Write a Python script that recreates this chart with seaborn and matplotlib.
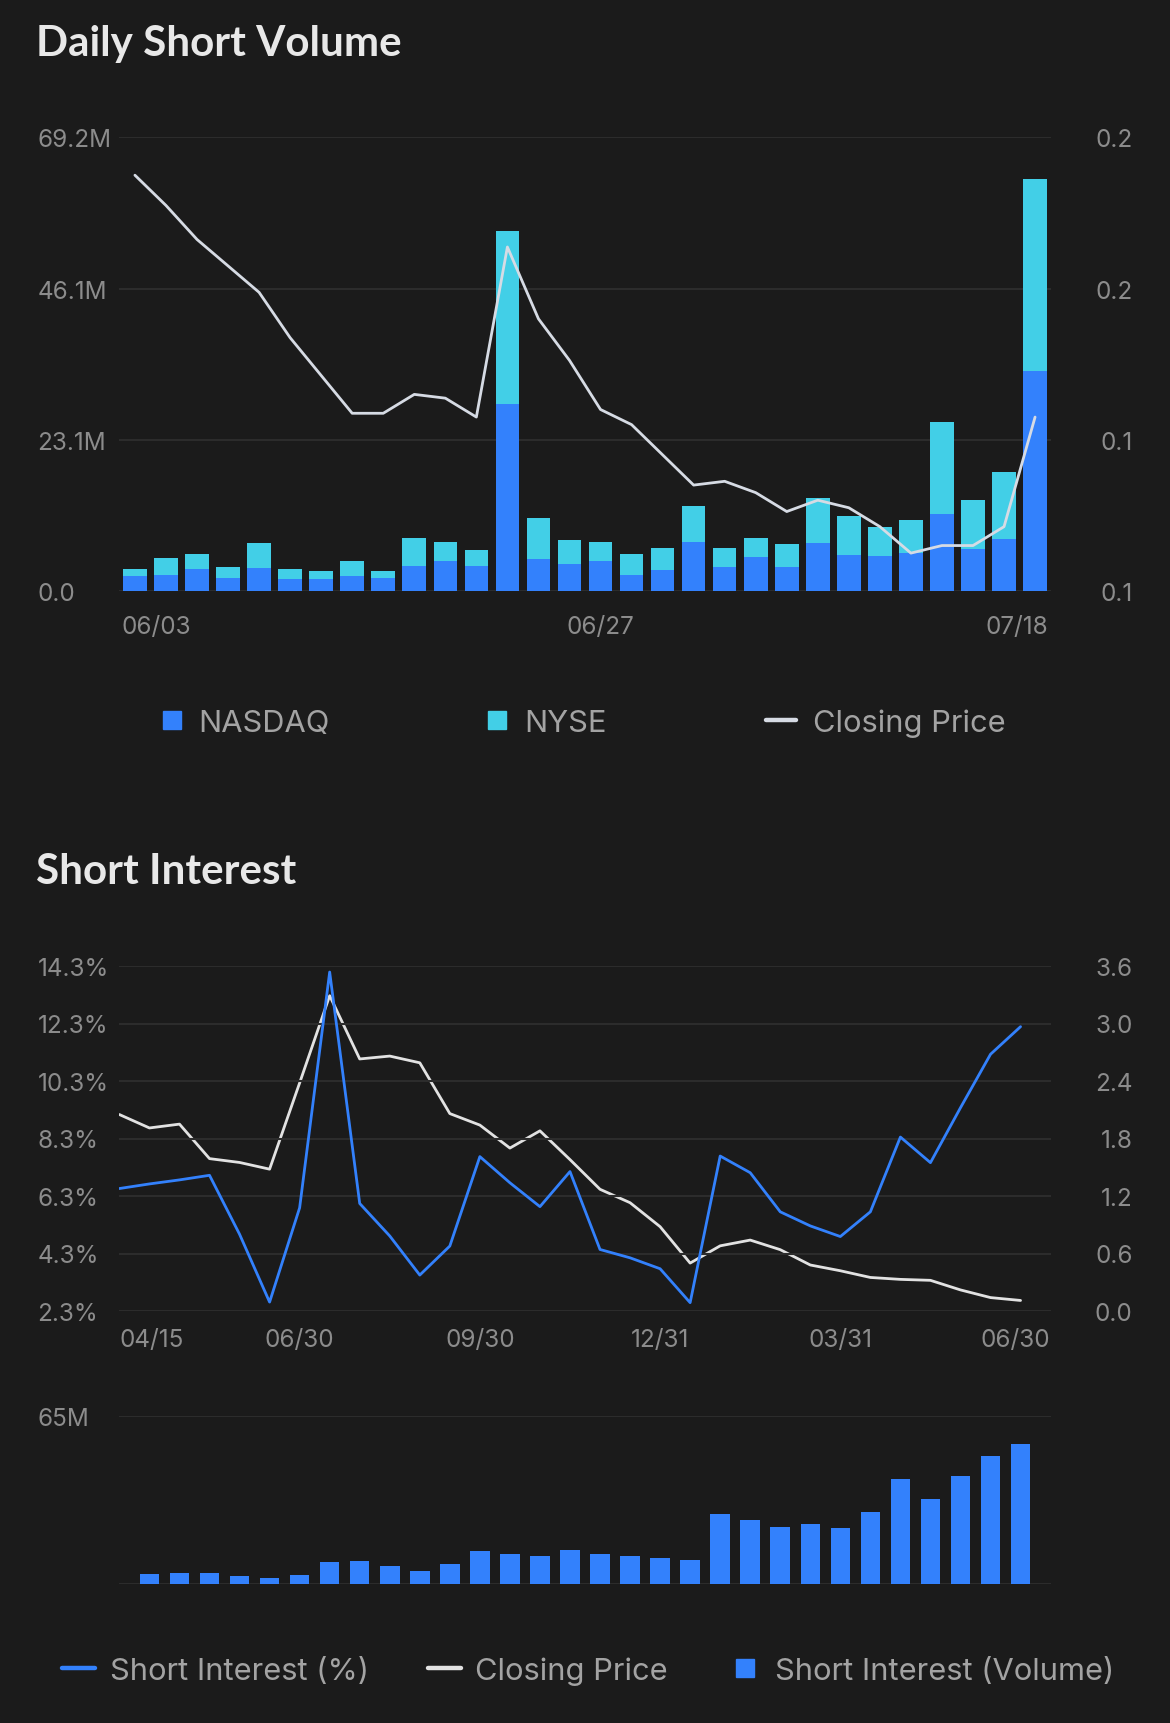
import numpy as np
import pandas as pd
import matplotlib
matplotlib.use('Agg')
import matplotlib.pyplot as plt
from matplotlib.lines import Line2D
import seaborn as sns

# Daily short volume, millions of shares (30 trading days)
nasdaq_vol = [2.2, 2.4, 3.3, 1.9, 3.5, 1.8, 1.75, 2.3, 1.9, 3.8, 4.5, 3.8, 28.5, 4.9, 4.1,
              4.5, 2.4, 3.2, 7.5, 3.7, 5.1, 3.6, 7.3, 5.5, 5.3, 5.8, 11.8, 6.4, 7.9, 33.5]
nyse_vol = [1.1, 2.6, 2.3, 1.8, 3.8, 1.5, 1.25, 2.3, 1.2, 4.3, 2.9, 2.5, 26.4, 6.3, 3.6,
            3.0, 3.2, 3.3, 5.5, 2.9, 3.0, 3.6, 6.8, 5.9, 4.5, 5.0, 13.9, 7.4, 10.3, 29.3]
daily_close = [0.190, 0.182, 0.173, 0.166, 0.159, 0.147, 0.137, 0.127, 0.127, 0.132,
               0.131, 0.126, 0.171, 0.152, 0.141, 0.128, 0.124, 0.116, 0.108, 0.109,
               0.106, 0.101, 0.104, 0.102, 0.097, 0.090, 0.092, 0.092, 0.097, 0.126]
daily_xlabels = ['06/03', '06/27', '07/18']
vol_ylabels = ['0.0', '23.1M', '46.1M', '69.2M']
daily_price_labels = ['0.1', '0.1', '0.2', '0.2']

# Short interest reports (31 dates)
si_pct = [6.56, 6.72, 6.86, 7.02, 4.97, 2.61, 5.89, 14.09, 6.04, 4.91, 3.55, 4.56, 7.67,
          6.76, 5.93, 7.15, 4.44, 4.15, 3.77, 2.59, 7.69, 7.11, 5.75, 5.26, 4.89, 5.75,
          8.35, 7.46, 9.37, 11.23, 12.19]
si_close = [2.05, 1.91, 1.95, 1.59, 1.55, 1.48, 2.38, 3.29, 2.63, 2.66, 2.59, 2.06, 1.94,
            1.70, 1.88, 1.58, 1.27, 1.13, 0.88, 0.50, 0.68, 0.74, 0.64, 0.48, 0.42, 0.35,
            0.33, 0.32, 0.22, 0.14, 0.11]
# short interest volume (millions), no bar for the first report
si_volume = [np.nan, 3.87, 4.0, 4.1, 2.8, 2.2, 3.35, 8.25, 8.6, 7.0, 5.0, 7.5, 12.6, 11.6,
             10.8, 13.2, 11.5, 10.6, 9.8, 9.0, 26.8, 24.6, 21.8, 23.1, 21.5, 27.9, 40.5,
             32.9, 41.7, 49.5, 53.9]
si_xlabels = ['04/15', '06/30', '09/30', '12/31', '03/31', '06/30']
pct_labels = ['2.3%', '4.3%', '6.3%', '8.3%', '10.3%', '12.3%', '14.3%']
si_price_labels = ['0.0', '0.6', '1.2', '1.8', '2.4', '3.0', '3.6']

BG = '#1b1b1b'
GRID = '#2c2c2c'
TICK = '#8c8c8c'
LEG = '#a3a3a3'
TITLE = '#e8e8e8'
BLUE = '#3381fc'
CYAN = '#42cfe7'
WHITE1 = '#d6dbe4'
WHITE2 = '#e2e2e2'

sns.set_style('dark', {'axes.facecolor': BG, 'figure.facecolor': BG})
plt.rcParams['font.family'] = ['Inter', 'DejaVu Sans']
TITLE_FONT = ['Lato', 'DejaVu Sans']

W, H = 1170, 1724
fig = plt.figure(figsize=(W / 100, H / 100), dpi=100)


def axes_at(left, top, right, bottom):
    return fig.add_axes([left / W, 1 - bottom / H, (right - left) / W, (bottom - top) / H])


def style_y(ax, ticks, labels, side, grid=False):
    ax.set_yticks(ticks)
    ax.set_yticklabels(labels)
    ax.tick_params(axis='y', length=0, pad=59, labelsize=17.5, labelcolor=TICK)
    plt.setp(ax.get_yticklabels(), ha='left' if side == 'left' else 'right')
    ax.set_ylabel('')
    ax.set_xlabel('')
    for s in ax.spines.values():
        s.set_visible(False)
    if grid:
        ax.yaxis.grid(True, color=GRID, lw=1.5)
        ax.set_axisbelow(True)
    ax.xaxis.grid(False)


# ---------------- Daily Short Volume ----------------
daily = pd.DataFrame({'day': range(len(nasdaq_vol)), 'nasdaq': nasdaq_vol,
                      'nyse': nyse_vol, 'close': daily_close})
daily['total'] = daily['nasdaq'] + daily['nyse']

ax1 = axes_at(119.4, 138.4, 1050.6, 591.9)
sns.barplot(data=daily, x='day', y='total', color=CYAN, saturation=1, width=0.76,
            errorbar=None, linewidth=0, edgecolor='none', ax=ax1)
sns.barplot(data=daily, x='day', y='nasdaq', color=BLUE, saturation=1, width=0.76,
            errorbar=None, linewidth=0, edgecolor='none', ax=ax1)
ax1.set_ylim(0, 69.2)
style_y(ax1, np.linspace(0, 69.2, 4), vol_ylabels, 'left', grid=True)

ax1b = ax1.twinx()
sns.lineplot(data=daily, x='day', y='close', color=WHITE1, lw=2, ax=ax1b)
ax1b.set_ylim(0.08, 0.20)
style_y(ax1b, [0.08, 0.12, 0.16, 0.20], daily_price_labels, 'right')

n = len(nasdaq_vol)
ax1.set_xlim(-0.5, n - 0.5)
ax1.set_xticks([-0.43, 15, n - 1 + 0.43])
ax1.set_xticklabels(daily_xlabels)
ax1.tick_params(axis='x', length=0, pad=17, labelsize=17.5, labelcolor=TICK)
labs = ax1.get_xticklabels()
labs[0].set_ha('left')
labs[-1].set_ha('right')

fig.text(36 / W, 1 - 56 / H, 'Daily Short Volume', ha='left', va='baseline',
         fontsize=30.3, fontweight='bold', color=TITLE, family=TITLE_FONT)

# ---------------- Short Interest ----------------
si = pd.DataFrame({'idx': range(len(si_pct)), 'pct': si_pct, 'close': si_close,
                   'volume': si_volume})
m = len(si_pct)

ax2 = axes_at(119.4, 967, 1050.6, 1312)
sns.lineplot(data=si, x='idx', y='pct', color=BLUE, lw=2, ax=ax2)
ax2.set_ylim(2.3, 14.3)
style_y(ax2, np.arange(2.3, 14.4, 2.0), pct_labels, 'left', grid=True)

ax2b = ax2.twinx()
sns.lineplot(data=si, x='idx', y='close', color=WHITE2, lw=2, ax=ax2b)
ax2b.set_ylim(0, 3.6)
style_y(ax2b, np.arange(0, 3.61, 0.6), si_price_labels, 'right')
ax2b.set_zorder(ax2.get_zorder() - 1)
ax2.patch.set_visible(False)

ax2.set_xlim(0, m)
ax2.set_xticks([0, 6, 12, 18, 24, m])
ax2.set_xticklabels(si_xlabels)
ax2.tick_params(axis='x', length=0, pad=12, labelsize=17.5, labelcolor=TICK)
labs = ax2.get_xticklabels()
labs[0].set_ha('left')
labs[-1].set_ha('right')

ax3 = axes_at(119.4, 1416.7, 1050.6, 1584.7)
sns.barplot(data=si.dropna(), x='idx', y='volume', native_scale=True, color=BLUE,
            saturation=1, width=0.65, errorbar=None, linewidth=0, edgecolor='none', ax=ax3)
ax3.set_ylim(0, 65)
style_y(ax3, [0, 65], ['', '65M'], 'left', grid=True)
ax3.set_xlim(0, m)
ax3.set_xticks([])

fig.text(36 / W, 1 - 884 / H, 'Short Interest', ha='left', va='baseline',
         fontsize=30.3, fontweight='bold', color=TITLE, family=TITLE_FONT)


# ---------------- legends ----------------
def legend_item(kind, x0, x1, yc, color, label, tx, base):
    yf = 1 - yc / H
    if kind == 'line':
        fig.add_artist(Line2D([x0 / W, x1 / W], [yf, yf], color=color, lw=3.2,
                              solid_capstyle='round', transform=fig.transFigure))
    else:
        fig.add_artist(Line2D([(x0 + x1) / 2 / W], [yf], marker='s', ms=13.5, color=color,
                              lw=0, transform=fig.transFigure))
    fig.text(tx / W, 1 - base / H, label, ha='left', va='baseline', fontsize=22.2, color=LEG)


legend_item('box', 162.7, 181.4, 720.5, BLUE, 'NASDAQ', 198, 731.7)
legend_item('box', 487, 506, 720.5, CYAN, 'NYSE', 524.5, 731.7)
legend_item('line', 766, 796, 720.5, WHITE1, 'Closing Price', 812.6, 731.7)

legend_item('line', 62, 95, 1669, BLUE, 'Short Interest (%)', 110, 1680)
legend_item('line', 428, 461, 1669, WHITE2, 'Closing Price', 475, 1680)
legend_item('box', 733, 756.5, 1669, BLUE, 'Short Interest (Volume)', 775, 1680)

fig.savefig('out.png', dpi=100, facecolor=BG)
